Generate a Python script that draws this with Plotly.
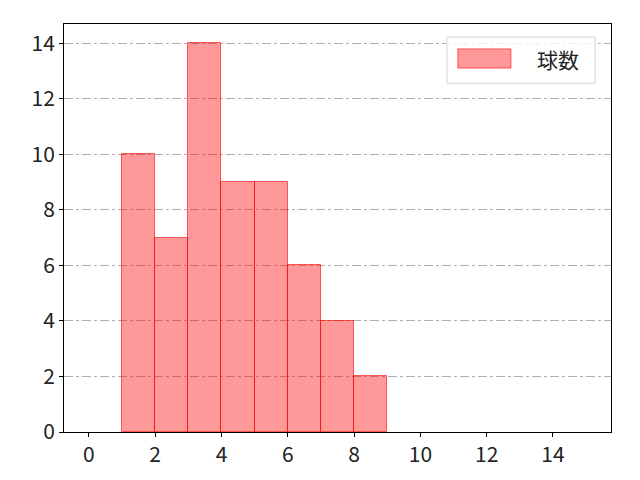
import plotly.graph_objects as go

# histogram bins (left edges) and counts
bin_left = [1, 2, 3, 4, 5, 6, 7, 8]
counts = [10, 7, 14, 9, 9, 6, 4, 2]
x_ticks = [0, 2, 4, 6, 8, 10, 12, 14]
y_ticks = [0, 2, 4, 6, 8, 10, 12, 14]
series_name = '球数'

centers = [b + 0.5 for b in bin_left]

fig = go.Figure(go.Bar(
    x=centers,
    y=counts,
    width=1,
    name=series_name,
    marker=dict(color='rgba(255,0,0,0.4)',
                line=dict(color='rgba(255,0,0,0.6)', width=1)),
    showlegend=False,
))

axis_common = dict(
    showline=True, linecolor='black', linewidth=1, mirror=True,
    ticks='outside', ticklen=4, tickcolor='black',
    zeroline=False, automargin=False,
    tickfont=dict(size=21, color='#222'),
)

# legend drawn by hand (matplotlib style: wide patch, rounded box)
shapes = [
    dict(type='rect', xref='paper', yref='paper',
         x0=0.700, x1=0.971, y0=0.855, y1=0.968,
         line=dict(color='#d6d6d6', width=1),
         fillcolor='rgba(255,255,255,0.8)', layer='above'),
    dict(type='rect', xref='paper', yref='paper',
         x0=0.720, x1=0.817, y0=0.892, y1=0.939,
         line=dict(color='rgba(255,0,0,0.6)', width=1),
         fillcolor='rgba(255,0,0,0.4)', layer='above'),
]
annotations = [
    dict(xref='paper', yref='paper', x=0.903, y=0.914,
         text=series_name, showarrow=False,
         font=dict(size=21, color='#222'),
         xanchor='center', yanchor='middle'),
]

fig.update_layout(
    width=624, height=464,
    margin=dict(l=56, r=21, t=16, b=40),
    plot_bgcolor='white', paper_bgcolor='white',
    font=dict(family='Noto Sans CJK JP', color='black'),
    bargap=0,
    xaxis=dict(range=[-0.75, 15.75], tickvals=x_ticks, showgrid=False,
               **axis_common),
    yaxis=dict(range=[0, 14.7], tickvals=y_ticks, showgrid=True,
               gridcolor='#b0b0b0', griddash='dashdot', gridwidth=1,
               **axis_common),
    shapes=shapes,
    annotations=annotations,
)

fig.write_html("out.html")
